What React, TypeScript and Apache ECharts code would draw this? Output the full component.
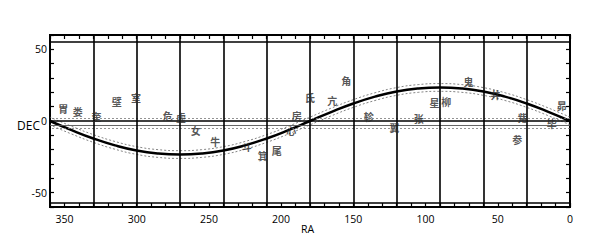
import React, { useEffect, useRef } from 'react';
import * as echarts from 'echarts';

// Right ascension sample points (degrees)
const RA_PTS = [0, 15, 30, 45, 60, 75, 90, 105, 120, 135, 150, 165, 180, 195, 210, 225, 240, 255, 270, 285, 300, 315, 330, 345, 360];
// Ecliptic declination
const ECLIPTIC = [0, 6.4, 12.2, 17.0, 20.6, 22.7, 23.4, 22.7, 20.6, 17.0, 12.2, 6.4, 0, -6.4, -12.2, -17.0, -20.6, -22.7, -23.4, -22.7, -20.6, -17.0, -12.2, -6.4, 0];
// Dashed band above / below the ecliptic
const ECL_UPPER = [2.7, 9.1, 14.9, 19.7, 23.3, 25.4, 26.1, 25.4, 23.3, 19.7, 14.9, 9.1, 2.7, -3.7, -9.5, -14.3, -17.9, -20.0, -20.7, -20.0, -17.9, -14.3, -9.5, -3.7, 2.7];
const ECL_LOWER = [-2.7, 3.7, 9.5, 14.3, 17.9, 20.0, 20.7, 20.0, 17.9, 14.3, 9.5, 3.7, -2.7, -9.1, -14.9, -19.7, -23.3, -25.4, -26.1, -25.4, -23.3, -19.7, -14.9, -9.1, -2.7];

// Vertical boundary lines (RA)
const BOUNDARIES = [30, 60, 90, 120, 150, 180, 210, 240, 270, 300, 330];

// Lunar mansions
const MANSIONS = ['胃', '娄', '奎', '壁', '室', '危', '虚', '女', '牛', '斗', '箕', '尾', '心', '房', '氐', '亢', '角', '轸', '翼', '张', '星', '柳', '鬼', '井', '觜', '参', '毕', '昴'];
const MANSION_RA = [350.4, 340.5, 327.4, 313.5, 300.1, 278.2, 268.9, 258.7, 245.2, 223.5, 212.4, 202.7, 192.7, 188.9, 179.6, 164.3, 154.6, 139.0, 121.2, 104.4, 93.5, 85.4, 69.9, 51.2, 32.3, 36.2, 12.3, 5.3];
const MANSION_DEC = [8.4, 6.1, 2.6, 13.0, 16.1, 3.5, 1.9, -6.8, -14.4, -18.4, -24.4, -20.7, -6.8, 3.5, 16.3, 14.2, 28.1, 2.6, -5.1, 1.2, 12.4, 13.5, 27.0, 18.1, 1.9, -13.3, -2.1, 10.5];

// Tick labels
const X_LABELS = [350, 300, 250, 200, 150, 100, 50, 0];
const Y_LABELS = [50, 0, -50];

const FONT = 'Open Sans';

export default function App() {
  const ref = useRef<HTMLDivElement>(null);
  useEffect(() => {
    if (!ref.current) return;
    const chart = echarts.init(ref.current, null, { renderer: 'svg' });
    const tickStyle = { color: '#000', width: 1.2 };
    const xCommon = {
      type: 'value',
      min: 0,
      max: 360,
      interval: 10,
      inverse: true,
      axisLine: { show: false, onZero: false },
      splitLine: { show: false },
      axisTick: { show: true, inside: true, length: 4, lineStyle: tickStyle },
    };
    const yCommon = {
      type: 'value',
      min: -60,
      max: 60,
      interval: 10,
      axisLine: { show: false, onZero: false },
      splitLine: { show: false },
      axisTick: { show: true, inside: true, length: 4, lineStyle: tickStyle },
    };
    chart.setOption({
      animation: false,
      grid: {
        left: 50,
        top: 35,
        width: 520,
        height: 172,
        show: true,
        borderColor: '#000',
        borderWidth: 2,
        backgroundColor: 'transparent',
      },
      xAxis: [
        {
          ...xCommon,
          position: 'bottom',
          axisLabel: {
            interval: 0,
            margin: 6,
            fontSize: 10.5,
            color: '#000',
            fontFamily: FONT,
            formatter: (v: number) => (X_LABELS.includes(v) ? String(v) : ''),
          },
        },
        { ...xCommon, position: 'top', axisLabel: { show: false } },
      ],
      yAxis: [
        {
          ...yCommon,
          position: 'left',
          axisLabel: {
            interval: 0,
            margin: 3,
            fontSize: 10.5,
            color: '#000',
            fontFamily: FONT,
            formatter: (v: number) => (Y_LABELS.includes(v) ? String(v) : ''),
          },
        },
        { ...yCommon, position: 'right', axisLabel: { show: false } },
      ],
      graphic: [
        {
          type: 'text',
          left: 17,
          top: 119,
          style: { text: 'DEC', fontSize: 12, fontFamily: FONT, fill: '#000' },
        },
        {
          type: 'text',
          left: 301,
          top: 223,
          style: { text: 'RA', fontSize: 10.5, fontFamily: FONT, fill: '#000' },
        },
      ],
      series: [
        {
          type: 'line',
          data: [],
          silent: true,
          markLine: {
            silent: true,
            symbol: ['none', 'none'],
            label: { show: false },
            data: [
              { yAxis: 55, lineStyle: { color: '#000', width: 1.6, type: 'solid' } },
              { yAxis: -57, lineStyle: { color: '#000', width: 1.6, type: 'solid' } },
              { yAxis: 2, lineStyle: { color: '#777', width: 0.8, type: [2, 2] } },
              { yAxis: 0, lineStyle: { color: '#000', width: 1.6, type: 'solid' } },
              { yAxis: -2.8, lineStyle: { color: '#555', width: 0.9, type: 'solid' } },
              { yAxis: -5, lineStyle: { color: '#777', width: 0.8, type: [2, 2] } },
              ...BOUNDARIES.map((v) => ({ xAxis: v, lineStyle: { color: '#000', width: 1.6, type: 'solid' } })),
            ],
          },
        },
        {
          type: 'line',
          data: RA_PTS.map((r, i) => [r, ECL_UPPER[i]]),
          smooth: true,
          showSymbol: false,
          silent: true,
          lineStyle: { color: '#666', width: 0.8, type: [2, 2] },
        },
        {
          type: 'line',
          data: RA_PTS.map((r, i) => [r, ECL_LOWER[i]]),
          smooth: true,
          showSymbol: false,
          silent: true,
          lineStyle: { color: '#666', width: 0.8, type: [2, 2] },
        },
        {
          type: 'line',
          data: RA_PTS.map((r, i) => [r, ECLIPTIC[i]]),
          smooth: true,
          showSymbol: false,
          silent: true,
          lineStyle: { color: '#000', width: 2.5 },
        },
        {
          type: 'scatter',
          silent: true,
          symbolSize: 1,
          itemStyle: { color: 'rgba(0,0,0,0)' },
          data: MANSIONS.map((n, i) => ({ name: n, value: [MANSION_RA[i], MANSION_DEC[i]] })),
          label: {
            show: true,
            position: [0, 0],
            align: 'center',
            verticalAlign: 'middle',
            formatter: '{b}',
            fontSize: 10,
            fontWeight: 'bold',
            color: '#2a2a2a',
            textBorderWidth: 0,
            fontFamily: 'Noto Sans CJK SC',
          },
          z: 5,
        },
      ],
    });
    return () => chart.dispose();
  }, []);
  return (
    <div
      ref={ref}
      style={{ position: 'fixed', left: 0, top: 0, width: 604, height: 241, background: '#fff' }}
    />
  );
}
